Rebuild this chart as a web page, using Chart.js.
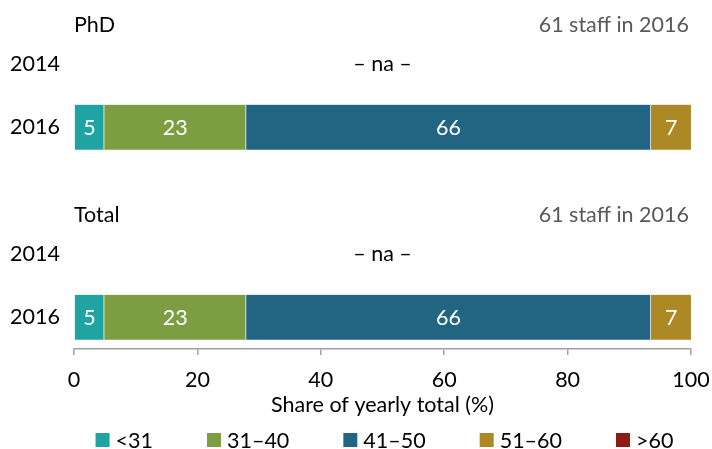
<!DOCTYPE html>
<html><head><meta charset="utf-8">
<script src="https://cdn.jsdelivr.net/npm/chart.js@4"></script>
<style>html,body{margin:0;padding:0;background:#fff}#wrap{width:712px;height:449px}</style>
</head><body><div id="wrap"><canvas id="c" width="712" height="449"></canvas></div>
<script>
// ---- data ----
const rowLabels = ['', '', '2014', '', '', '2016', '', '', '', '', '', '2014', '', '', '2016', ''];
const groupNames = ['PhD', 'Total'];
const groupNotes = ['61 staff in 2016', '61 staff in 2016'];
const groupFirstRows = [2, 11];   // 2014 rows (no data: "– na –")
const groupDataRows = [5, 14];    // 2016 rows
const ageGroups = ['<31', '31–40', '41–50', '51–60', '>60'];
const phd2016 = [4.9, 23.0, 65.6, 6.6, 0];
const total2016 = [4.9, 23.0, 65.6, 6.6, 0];
const naText = '– na –';
const xTicks = [0, 20, 40, 60, 80, 100];
const xTitle = 'Share of yearly total (%)';
const colors = ['#1fa4a3', '#7d9d43', '#216583', '#ac8925', '#8b1c14'];

const FONT = 'Lato';
const FS = 21.5;
const font = {family: FONT, size: FS};

const datasets = ageGroups.map((name, k) => ({
  label: name,
  data: rowLabels.map((_, i) => i === groupDataRows[0] ? phd2016[k] : (i === groupDataRows[1] ? total2016[k] : null)),
  backgroundColor: colors[k],
  borderColor: 'rgba(255,255,255,0.45)',
  borderWidth: {top: 0, bottom: 0, left: 0, right: 1},
  borderSkipped: false,
  barThickness: 45
}));

const annot = {
  id: 'annot',
  afterDraw(chart) {
    const ctx = chart.ctx, ca = chart.chartArea, ys = chart.scales.y;
    ctx.save();
    ctx.font = `${FS}px ${FONT}`;
    ctx.textBaseline = 'middle';
    groupNames.forEach((g, gi) => {
      const yRow = ys.getPixelForValue(groupFirstRows[gi]);
      const yHead = yRow - 39;
      ctx.fillStyle = '#000';
      ctx.textAlign = 'left';
      ctx.fillText(g, ca.left, yHead);
      ctx.fillStyle = '#595959';
      ctx.textAlign = 'right';
      ctx.fillText(groupNotes[gi], ca.right - 2, yHead);
      ctx.fillStyle = '#000';
      ctx.textAlign = 'center';
      ctx.fillText(naText, (ca.left + ca.right) / 2, yRow);
    });
    ctx.fillStyle = '#fff';
    ctx.textAlign = 'center';
    chart.data.datasets.forEach((ds, di) => {
      const meta = chart.getDatasetMeta(di);
      meta.data.forEach((el, i) => {
        const v = ds.data[i];
        if (v == null || v <= 0) return;
        const w = Math.abs(el.x - el.base);
        const t = String(Math.round(v));
        if (ctx.measureText(t).width > w) return;
        ctx.fillText(t, (el.x + el.base) / 2, el.y + 1);
      });
    });
    // legend
    const box = 14, gapBox = 6, gapItem = 54;
    const widths = chart.data.datasets.map(ds => box + gapBox + ctx.measureText(ds.label).width);
    const total = widths.reduce((a, b) => a + b, 0) + gapItem * (widths.length - 1);
    let x = (ca.left + ca.right) / 2 - total / 2 + 2;
    const yL = 440;
    ctx.textAlign = 'left';
    chart.data.datasets.forEach((ds, di) => {
      ctx.fillStyle = ds.backgroundColor;
      ctx.fillRect(x, yL - box / 2, box, box);
      ctx.fillStyle = '#000';
      ctx.fillText(ds.label, x + box + gapBox, yL + 1);
      x += widths[di] + gapItem;
    });
    ctx.restore();
  }
};

new Chart(document.getElementById('c'), {
  type: 'bar',
  data: {labels: rowLabels, datasets},
  plugins: [annot],
  options: {
    indexAxis: 'y',
    responsive: false,
    animation: false,
    layout: {padding: {top: 11, right: 21, bottom: 28, left: 0}},
    scales: {
      x: {
        stacked: true, min: 0, max: 100,
        afterBuildTicks: s => { s.ticks = xTicks.map(v => ({value: v})); },
        afterFit: s => { s.paddingLeft = 0; s.paddingRight = 0; s.height = 72; },
        ticks: {font, color: '#000', padding: 12, maxRotation: 0},
        grid: {display: true, drawOnChartArea: false, drawTicks: true, tickLength: 6, color: '#a0a0a0', lineWidth: 1.5},
        border: {display: true, color: '#a0a0a0', width: 1.5},
        title: {display: true, text: xTitle, font, color: '#000', padding: {top: 0, bottom: 3}}
      },
      y: {
        stacked: true,
        grid: {display: false, drawTicks: false},
        border: {display: false},
        ticks: {font, color: '#000', padding: 14, autoSkip: false},
        afterFit: s => { s.width = 74; s.paddingTop = 0; s.paddingBottom = 0; }
      }
    },
    plugins: {legend: {display: false}, tooltip: {enabled: false}}
  }
});
</script></body></html>
